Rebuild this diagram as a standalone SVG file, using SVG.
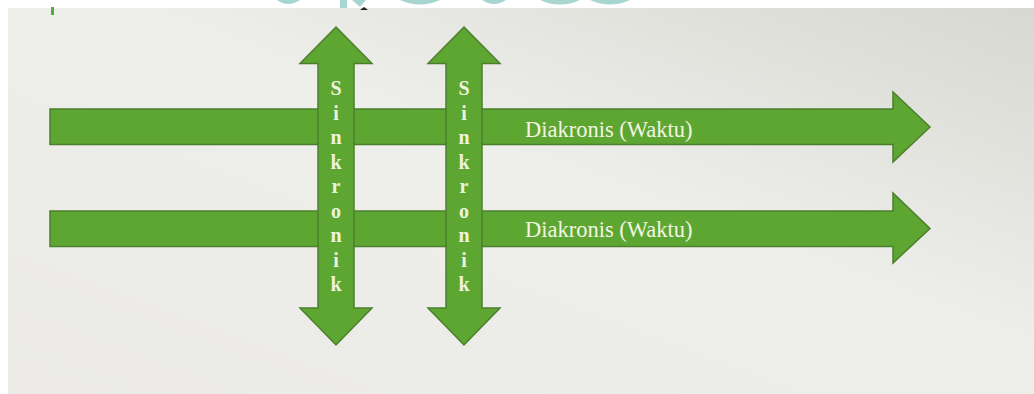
<svg xmlns="http://www.w3.org/2000/svg" width="1034" height="394" viewBox="0 0 1034 394">
  <defs>
    <linearGradient id="panelGrad" x1="0" y1="1" x2="1" y2="0">
      <stop offset="0" stop-color="#ebeae6"/>
      <stop offset="0.55" stop-color="#eeeeeb"/>
      <stop offset="1" stop-color="#d8d8d2"/>
    </linearGradient>
    <style>
      .arrow { fill: #5ea632; stroke: #4c7f2c; stroke-width: 1.5; stroke-linejoin: miter; }
      .hlabel { font-family: "Liberation Serif", "Times New Roman", serif; font-size: 22.5px; fill: #f1f5e2; }
      .vlabel { font-family: "Liberation Serif", "Times New Roman", serif; font-size: 20px; font-weight: bold; fill: #eef3dc; text-anchor: middle; }
      .frag { fill: #a6d6cf; }
    </style>
  </defs>

  <!-- page and slide panel -->
  <rect x="0" y="0" width="1034" height="394" fill="#ffffff"/>
  <rect x="8" y="8" width="1026" height="386" fill="url(#panelGrad)"/>

  <!-- clipped heading remnants along the top edge -->
  <g id="heading-remnant">
    <path class="frag" d="M277 0 Q288 8 300 0 Z"/>
    <rect class="frag" x="340" y="0" width="7" height="8"/>
    <path class="frag" d="M352 0 L360 7 L366 0 Z"/>
    <path class="frag" d="M400 0 Q420 9 440 0 Z"/>
    <path class="frag" d="M482 0 Q494 8 506 0 Z"/>
    <path class="frag" d="M540 0 Q560 9 580 0 Z"/>
    <path class="frag" d="M590 0 Q610 9 630 0 Z"/>
    <rect x="51" y="7" width="3" height="8" fill="#4fae3c"/>
    <path d="M360 10 L364 7 L368 10 Z" fill="#222"/>
  </g>

  <g id="connectors">
    <!-- horizontal time arrows -->
    <g id="diakronis-1">
      <path class="arrow" d="M50 109 L893 109 L893 92 L930 127 L893 162 L893 144.5 L50 144.5 Z"/>
      <text class="hlabel" x="525" y="137">Diakronis (Waktu)</text>
    </g>
    <g id="diakronis-2">
      <path class="arrow" d="M50 211 L893 211 L893 193 L930 228.5 L893 263 L893 246.5 L50 246.5 Z"/>
      <text class="hlabel" x="525" y="237">Diakronis (Waktu)</text>
    </g>

    <!-- vertical double-headed arrows -->
    <g id="sinkronik-1">
      <path class="arrow" d="M336 27 L372 63.5 L354 63.5 L354 308 L372 308 L336 345 L300 308 L318 308 L318 63.5 L300 63.5 Z"/>
      <text class="vlabel" x="336" y="95">S</text>
      <text class="vlabel" x="336" y="119.5">i</text>
      <text class="vlabel" x="336" y="144">n</text>
      <text class="vlabel" x="336" y="168.5">k</text>
      <text class="vlabel" x="336" y="193">r</text>
      <text class="vlabel" x="336" y="217.5">o</text>
      <text class="vlabel" x="336" y="242">n</text>
      <text class="vlabel" x="336" y="266.5">i</text>
      <text class="vlabel" x="336" y="291">k</text>
    </g>
    <g id="sinkronik-2">
      <path class="arrow" d="M464 27 L500 63.5 L482 63.5 L482 308 L500 308 L464 345 L428 308 L446 308 L446 63.5 L428 63.5 Z"/>
      <text class="vlabel" x="464" y="95">S</text>
      <text class="vlabel" x="464" y="119.5">i</text>
      <text class="vlabel" x="464" y="144">n</text>
      <text class="vlabel" x="464" y="168.5">k</text>
      <text class="vlabel" x="464" y="193">r</text>
      <text class="vlabel" x="464" y="217.5">o</text>
      <text class="vlabel" x="464" y="242">n</text>
      <text class="vlabel" x="464" y="266.5">i</text>
      <text class="vlabel" x="464" y="291">k</text>
    </g>
  </g>
</svg>
